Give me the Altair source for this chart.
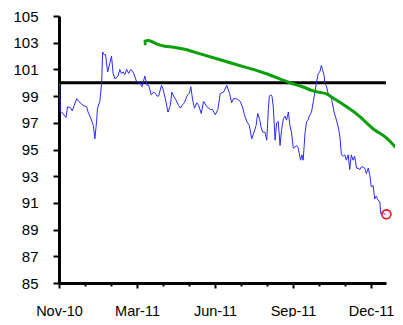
import altair as alt
import pandas as pd

# Blue series: x in months from the "Nov-10" label position, value
blue_m = [0.02, 0.05, 0.10, 0.27, 0.33, 0.45, 0.51, 0.68, 0.81, 0.93, 1.06, 1.12, 1.23, 1.32, 1.38,
          1.45, 1.48, 1.57, 1.64, 1.68, 1.74, 1.79, 1.87, 1.96, 2.02, 2.08, 2.15, 2.27, 2.34, 2.40,
          2.47, 2.53, 2.60, 2.68, 2.76, 2.85, 2.91, 2.98, 3.11, 3.19, 3.30, 3.39, 3.45, 3.55, 3.64,
          3.71, 3.77, 3.83, 3.94, 3.99, 4.09, 4.19, 4.28, 4.34, 4.41, 4.50, 4.60, 4.67, 4.73, 4.82,
          4.92, 5.01, 5.07, 5.14, 5.21, 5.30, 5.37, 5.47, 5.56, 5.69, 5.82, 5.90, 6.01, 6.11, 6.20,
          6.33, 6.45, 6.56, 6.64, 6.71, 6.84, 6.97, 7.07, 7.13, 7.22, 7.32, 7.41, 7.50, 7.58, 7.64,
          7.71, 7.77, 7.83, 7.92, 7.99, 8.05, 8.09, 8.14, 8.19, 8.24, 8.31, 8.37, 8.43, 8.50, 8.56,
          8.63, 8.69, 8.75, 8.82, 8.88, 8.94, 9.01, 9.08, 9.14, 9.20, 9.29, 9.34, 9.39, 9.46, 9.52,
          9.58, 9.62, 9.71, 9.78, 9.84, 9.90, 9.97, 10.03, 10.09, 10.13, 10.20, 10.22, 10.29, 10.35,
          10.46, 10.51, 10.58, 10.67, 10.76, 10.81, 10.86, 10.93, 10.99, 11.05, 11.12, 11.18, 11.24,
          11.31, 11.37, 11.44, 11.50, 11.57, 11.63, 11.69, 11.76, 11.82, 11.89, 11.95, 12.01, 12.08,
          12.14, 12.20, 12.27, 12.34, 12.37, 12.46, 12.55]
blue_v = [100.0, 97.8, 97.8, 97.4, 98.2, 98.1, 97.9, 98.8, 98.5, 98.3, 98.2, 97.8, 97.3, 96.8, 95.8,
          97.2, 98.1, 98.6, 100.0, 102.3, 102.1, 102.1, 100.8, 101.5, 102.0, 100.7, 100.3, 100.5, 101.0, 100.7,
          100.8, 100.6, 101.0, 100.7, 101.0, 100.8, 100.5, 100.1, 100.0, 99.7, 100.5, 99.8, 99.8, 99.1, 99.3,
          99.2, 99.0, 99.0, 99.8, 99.6, 98.8, 97.8, 98.3, 99.3, 99.0, 98.7, 98.3, 98.1, 98.3, 98.5,
          99.0, 99.2, 99.7, 98.7, 98.1, 98.5, 98.3, 97.7, 98.6, 98.2, 98.0, 98.0, 97.6, 98.0, 99.2,
          99.3, 99.8, 99.2, 98.5, 98.8, 98.8, 98.6, 98.1, 97.6, 97.1, 96.8, 95.8, 96.3, 96.8, 97.7,
          97.3, 96.7, 96.3, 96.3, 95.7, 98.0, 99.0, 99.1, 99.0, 98.2, 95.7, 97.0, 97.1, 95.3, 96.5,
          97.3, 97.5, 97.2, 97.8, 96.8, 96.3, 95.1, 95.2, 95.3, 95.1, 94.2, 94.6, 94.2, 96.2, 97.1,
          97.2, 97.5, 97.8, 98.6, 99.3, 100.0, 100.7, 100.8, 101.3, 101.0, 100.5, 100.0, 99.7, 99.2,
          99.0, 98.5, 97.8, 97.2, 96.5, 95.8, 94.6, 94.5, 94.6, 94.2, 94.6, 93.5, 94.6,
          94.2, 94.5, 93.6, 93.6, 93.5, 93.7, 93.7, 93.6, 93.2, 93.6, 93.1, 92.2, 92.3,
          91.3, 91.5, 91.2, 91.1, 90.2, 90.3, 90.1]

# Green hand-drawn curve
green_m = [3.34, 3.26, 3.32, 3.45, 3.58, 3.77, 4.03, 4.41, 4.79, 5.37, 6.64, 7.92, 8.94, 9.39,
           9.71, 9.97, 10.29, 10.54, 10.86, 11.50, 12.14, 12.53, 13.15]
green_v = [102.83, 103.0, 103.13, 103.16, 103.07, 102.9, 102.75, 102.66, 102.53, 102.2, 101.46,
           100.71, 99.96, 99.68, 99.43, 99.3, 99.16, 98.86, 98.46, 97.58, 96.46, 95.96, 94.72]

# reference level
level = [100]

# red circle at the last point
end_m = [12.59]
end_v = [90.15]

# axis
x_ticks = list(range(13))
label_pos = [0, 3, 6, 9, 12]
label_txt = ["Nov-10", "Mar-11", "Jun-11", "Sep-11", "Dec-11"]
y_ticks = list(range(85, 106, 2))

expr = "''"
for p, t in reversed(list(zip(label_pos, label_txt))):
    expr = f"datum.value == {p} ? '{t}' : ({expr})"

font = "Liberation Sans"
xscale = alt.Scale(domain=[0, 12.575], nice=False, zero=False)
yscale = alt.Scale(domain=[85, 105], nice=False, zero=False)

x_axis = alt.Axis(values=x_ticks, labelExpr=expr, grid=False, domainColor="black", domainWidth=3,
                  tickColor="black", tickWidth=2,
                  tickSize={"condition": {"test": "datum.value % 3 == 0", "value": 5}, "value": 3},
                  labelFont=font, labelFontSize=14.5, labelColor="black", labelPadding=16,
                  labelFlush=False, labelOverlap=False, title=None)
y_axis = alt.Axis(values=y_ticks, grid=False, domainColor="black", domainWidth=3,
                  tickColor="black", tickWidth=2, tickSize=6, labelFont=font, labelFontSize=15,
                  labelColor="black", labelPadding=15, labelFlush=False, title=None)

blue_df = pd.DataFrame({"m": blue_m, "v": blue_v, "o": range(len(blue_m))})
green_df = pd.DataFrame({"m": green_m, "v": green_v, "o": range(len(green_m))})
level_df = pd.DataFrame({"v": level})
end_df = pd.DataFrame({"m": end_m, "v": end_v})

rule = alt.Chart(level_df).mark_rule(color="black", strokeWidth=3).encode(
    y=alt.Y("v:Q", scale=yscale, axis=y_axis)
)
blue = alt.Chart(blue_df).mark_line(color="#2a2aff", strokeWidth=1).encode(
    x=alt.X("m:Q", scale=xscale, axis=x_axis),
    y=alt.Y("v:Q", scale=yscale, axis=y_axis),
    order="o:Q",
)
green = alt.Chart(green_df).mark_line(color="#0aa00a", strokeWidth=3, interpolate="monotone").encode(
    x=alt.X("m:Q", scale=xscale, axis=x_axis),
    y=alt.Y("v:Q", scale=yscale, axis=y_axis),
    order="o:Q",
)
end = alt.Chart(end_df).mark_point(shape="circle", filled=False, size=80, strokeWidth=1.7,
                                   color="#e8141b", opacity=1).encode(
    x=alt.X("m:Q", scale=xscale, axis=x_axis),
    y=alt.Y("v:Q", scale=yscale, axis=y_axis),
)

chart = alt.layer(rule, blue, green, end).properties(
    width=327, height=267,
    autosize=alt.AutoSizeParams(type="none"),
    padding={"left": 51, "top": 8, "right": 9, "bottom": 34},
).configure_view(stroke=None)

chart.save("out.html", embed_options={"renderer": "svg", "actions": False})
